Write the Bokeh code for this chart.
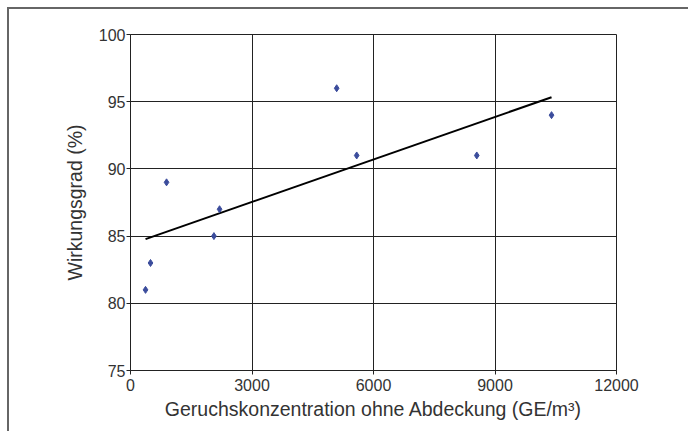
import numpy as np
from bokeh.plotting import figure
from bokeh.models import FixedTicker, Range1d
from bokeh.embed import file_html
from bokeh.resources import INLINE

# Data
konzentration = [371, 494, 890, 2060, 2199, 5091, 5585, 8550, 10396]
wirkungsgrad = [81, 83, 89, 85, 87, 96, 91, 91, 94]
x_ticks = [0, 3000, 6000, 9000, 12000]
y_ticks = [75, 80, 85, 90, 95, 100]

FONT = "Liberation Sans"

p = figure(width=681, height=424, output_backend="svg", toolbar_location=None,
           x_range=Range1d(0, 12000), y_range=Range1d(75, 100),
           min_border_left=121, min_border_right=74,
           min_border_top=25, min_border_bottom=63)
p.styles = {"border-left": "2px solid #666666", "border-top": "2px solid #666666",
            "margin-left": "7px", "margin-top": "7px"}

p.background_fill_color = "white"
p.border_fill_color = "white"
p.outline_line_color = "#222222"
p.outline_line_width = 1

p.xaxis.ticker = FixedTicker(ticks=x_ticks)
p.yaxis.ticker = FixedTicker(ticks=y_ticks)
p.xgrid.ticker = FixedTicker(ticks=x_ticks)
p.ygrid.ticker = FixedTicker(ticks=y_ticks)
for g in (p.xgrid, p.ygrid):
    g.grid_line_color = "#222222"
    g.grid_line_width = 1
    g.grid_line_alpha = 1.0

for ax in (p.xaxis, p.yaxis):
    ax.axis_line_color = "#222222"
    ax.axis_line_width = 1
    ax.major_tick_line_color = "#222222"
    ax.major_tick_in = 0
    ax.major_tick_out = 4
    ax.minor_tick_line_color = None
    ax.major_label_text_font = FONT
    ax.major_label_text_font_size = "16px"
    ax.major_label_text_color = "#333333"
    ax.axis_label_text_font = FONT
    ax.axis_label_text_font_size = "19.5px"
    ax.axis_label_text_font_style = "normal"
    ax.axis_label_text_color = "#333333"

p.xaxis.axis_label = "Geruchskonzentration ohne Abdeckung (GE/m³)"
p.yaxis.axis_label = "Wirkungsgrad (%)"
p.xaxis.major_label_standoff = 4
p.yaxis.major_label_standoff = 1
p.xaxis.axis_label_standoff = 4
p.yaxis.axis_label_standoff = 10

# Linear trend line (least squares fit of the data)
slope, intercept = np.polyfit(konzentration, wirkungsgrad, 1)
tx = [min(konzentration), max(konzentration)]
ty = [slope * v + intercept for v in tx]
p.line(tx, ty, line_color="black", line_width=2)

p.scatter(konzentration, wirkungsgrad, marker="diamond", size=7,
          fill_color="#3b4c9c", line_color="#3b4c9c")

open("out.html", "w").write(file_html(p, INLINE))
